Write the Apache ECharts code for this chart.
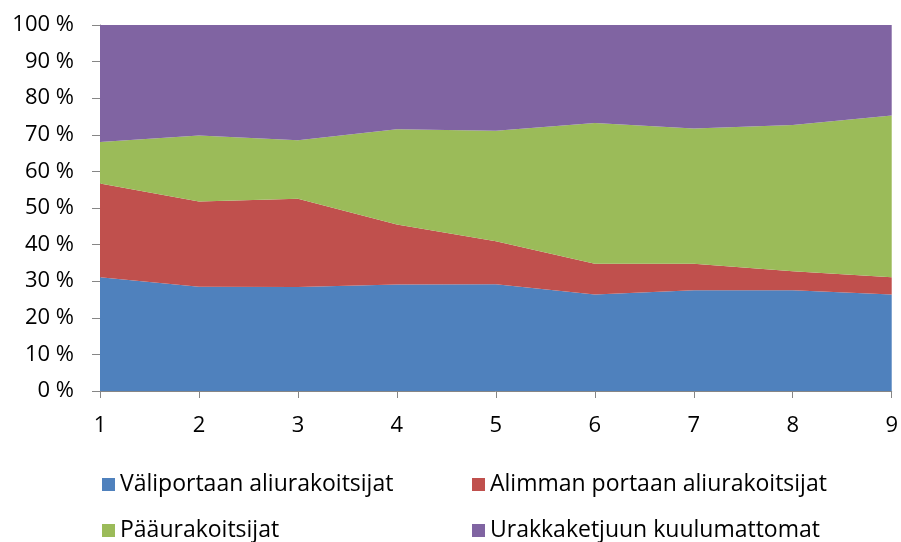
<!DOCTYPE html>
<html><head><meta charset="utf-8">
<script src="https://cdn.jsdelivr.net/npm/echarts@6/dist/echarts.min.js"></script>
<style>html,body{margin:0;padding:0;background:#fff}#c{width:901px;height:542px}</style>
</head><body><div id="c"></div>
<script>
const categories = ['1','2','3','4','5','6','7','8','9'];
const seriesNames = ['Väliportaan aliurakoitsijat','Alimman portaan aliurakoitsijat','Pääurakoitsijat','Urakkaketjuun kuulumattomat'];
const valiportaan = [31.1, 28.5, 28.4, 29.1, 29.2, 26.4, 27.5, 27.5, 26.4];
const alimman = [25.6, 23.3, 24.1, 16.4, 11.7, 8.4, 7.3, 5.2, 4.7];
const paaurakoitsijat = [11.3, 18.0, 16.0, 26.0, 30.2, 38.4, 36.9, 40.0, 44.2];
const kuulumattomat = [32.0, 30.2, 31.5, 28.5, 28.9, 26.8, 28.3, 27.3, 24.7];
const yTicks = [0,10,20,30,40,50,60,70,80,90,100];
const colors = ['#4F81BD','#C0504D','#9BBB59','#8064A2'];
const font = 'Open Sans, Liberation Sans, sans-serif';

const chart = echarts.init(document.getElementById('c'));
const dataArr = [valiportaan, alimman, paaurakoitsijat, kuulumattomat];
const legendPos = [[97,468],[467,468],[97,514],[467,514]];
chart.setOption({
  animation:false,
  color: colors,
  textStyle:{fontFamily:font},
  grid:{left:100,right:6,top:25,bottom:151,containLabel:false},
  legend: seriesNames.map((n,i)=>({
    data:[n], left:legendPos[i][0], top:legendPos[i][1], icon:'rect',
    itemWidth:13, itemHeight:13, itemGap:6, padding:[5,5,5,5],
    textStyle:{fontSize:23, color:'#000', fontFamily:font}
  })),
  xAxis:{type:'category', data:categories, boundaryGap:false,
    axisLine:{lineStyle:{color:'#868686'}},
    axisTick:{show:true, length:7, lineStyle:{color:'#868686'}},
    axisLabel:{fontSize:22, color:'#000', margin:24, fontFamily:font},
    splitLine:{show:false}},
  yAxis:{type:'value', min:0, max:100, interval:10,
    axisLine:{show:true, lineStyle:{color:'#868686'}},
    axisTick:{show:true, length:8, lineStyle:{color:'#868686'}},
    axisLabel:{fontSize:22, color:'#000', margin:26, fontFamily:font,
      formatter: v => yTicks.includes(v) ? v + ' %' : ''},
    splitLine:{show:false}},
  series: dataArr.map((d,i)=>({
    name: seriesNames[i], type:'line', stack:'total', data:d,
    symbol:'none', lineStyle:{width:0}, areaStyle:{opacity:1, color:colors[i]},
    emphasis:{disabled:true}
  }))
});
</script></body></html>
